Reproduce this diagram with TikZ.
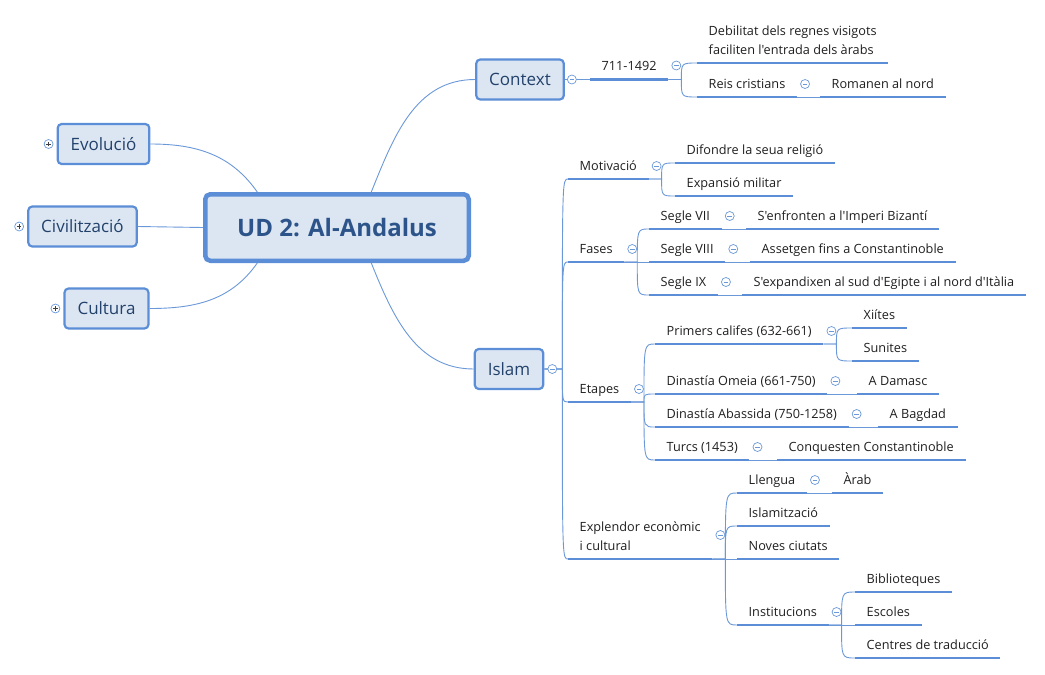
\documentclass[tikz,border=0pt]{standalone}
\usepackage{fontspec}
\newfontfamily\mmfonte{Open Sans}
\usetikzlibrary{positioning}
\definecolor{mmazul}{HTML}{5B8ED6}
\definecolor{mmazulclaro}{HTML}{DCE6F2}
\definecolor{mmfio}{HTML}{6A98D8}
\definecolor{mmtexto}{HTML}{22416B}
\definecolor{mmtitulo}{HTML}{2D548A}
\tikzset{
  mmcentro/.style={draw=mmazul, fill=mmazulclaro, line width=4.5pt, rounded corners=5pt,
                   minimum width=263.5pt, minimum height=66.5pt, text=mmtitulo,
                   font=\mmfonte\fontsize{24}{28}\selectfont\bfseries},
  mmprincipal/.style={draw=mmazul, fill=mmazulclaro, line width=2.2pt, rounded corners=4pt,
                   inner xsep=13pt, minimum height=40pt, text=mmtexto,
                   font=\mmfonte\fontsize{17}{20}\selectfont},
  mmtopico/.style={anchor=south west, inner xsep=11.5pt, inner ysep=5.5pt, text depth=3pt,
                   align=left, text=black!88, font=\mmfonte\fontsize{12.7}{18.5}\selectfont,
                   append after command={(\tikzlastnode.south west) edge[mmsublinha] (\tikzlastnode.south east)}},
  mmsublinha/.style={draw=mmazul, line width=2.6pt},
  mmconector/.style={draw=mmfio, line width=0.9pt},
  mmramo/.style={mmconector, to path={-- ++(13,0) coordinate (mmj) .. controls (mmj |- \tikztotarget) .. (\tikztotarget)}},
  mmtronco/.style={mmconector, to path={-- ++(18,0) coordinate (mmj) .. controls (mmj |- \tikztotarget) .. (\tikztotarget)}},
  mmmenos/.style={circle, draw=mmfio, fill=white, line width=0.7pt, minimum size=9pt, inner sep=0pt,
                  path picture={\draw[mmfio, line width=0.7pt]
                    ([xshift=-2.3pt]path picture bounding box.center) -- ([xshift=2.3pt]path picture bounding box.center);}},
  mmmais/.style={circle, draw=mmfio, fill=white, line width=0.7pt, minimum size=9pt, inner sep=0pt,
                  path picture={\draw[black!75, line width=0.7pt]
                    ([xshift=-2.3pt]path picture bounding box.center) -- ([xshift=2.3pt]path picture bounding box.center)
                    ([yshift=-2.3pt]path picture bounding box.center) -- ([yshift=2.3pt]path picture bounding box.center);}},
}

\begin{document}
\begin{tikzpicture}[x=1pt, y=1pt]
    \useasboundingbox (0,0) rectangle (1045,-675);
    % ---------------- tema central i branques principals ----------------
    \node[mmcentro] (ud) at (337,-227.5) {UD 2: Al-Andalus};
    \node[mmprincipal] (evolucio) at (103.5,-144) {Evolució};
    \node[mmprincipal] (civil) at (82.5,-226.5) {Civilització};
    \node[mmprincipal] (cultura) at (106.5,-308.5) {Cultura};
    \node[mmprincipal] (context) at (520,-79.5) {Context};
    \node[mmprincipal] (islam) at (509,-369) {Islam};
    % ---------------- Context ----------------
    \node[mmtopico] (anys) at (590,-79.5) {711-1492};
    \node[mmtopico] (debil) at (697,-63) {Debilitat dels regnes visigots\\faciliten l'entrada dels àrabs};
    \node[mmtopico] (reis) at (697,-97) {Reis cristians};
    \node[mmtopico] (romanen) at (820,-97) {Romanen al nord};
    % ---------------- Islam ----------------
    \node[mmtopico] (motiv) at (568,-179) {Motivació};
    \node[mmtopico] (difon) at (675,-163) {Difondre la seua religió};
    \node[mmtopico] (expan) at (675,-196) {Expansió militar};
    \node[mmtopico] (fases) at (568,-262) {Fases};
    \node[mmtopico] (s7) at (649,-229) {Segle VII};
    \node[mmtopico] (s7r) at (746,-229) {S'enfronten a l'Imperi Bizantí};
    \node[mmtopico] (s8) at (649,-262) {Segle VIII};
    \node[mmtopico] (s8r) at (750,-262) {Assetgen fins a Constantinoble};
    \node[mmtopico] (s9) at (649,-295) {Segle IX};
    \node[mmtopico] (s9r) at (742,-295) {S'expandixen al sud d'Egipte i al nord d'Itàlia};
    \node[mmtopico] (etapes) at (568,-402) {Etapes};
    \node[mmtopico] (califes) at (655,-344) {Primers califes (632-661)};
    \node[mmtopico] (xiites) at (852,-328) {Xiítes};
    \node[mmtopico] (sunites) at (852,-361) {Sunites};
    \node[mmtopico] (omeia) at (655,-394) {Dinastía Omeia (661-750)};
    \node[mmtopico] (damasc) at (857,-394) {A Damasc};
    \node[mmtopico] (abassida) at (655,-427) {Dinastía Abassida (750-1258)};
    \node[mmtopico] (bagdad) at (878,-427) {A Bagdad};
    \node[mmtopico] (turcs) at (655,-460) {Turcs (1453)};
    \node[mmtopico] (conquesten) at (777,-460) {Conquesten Constantinoble};
    \node[mmtopico] (esplendor) at (568,-559) {Explendor econòmic\\i cultural};
    \node[mmtopico] (llengua) at (737,-493) {Llengua};
    \node[mmtopico] (arab) at (832,-493) {Àrab};
    \node[mmtopico] (islamitz) at (737,-526) {Islamització};
    \node[mmtopico] (ciutats) at (737,-559) {Noves ciutats};
    \node[mmtopico] (instit) at (737,-625) {Institucions};
    \node[mmtopico] (bibl) at (855,-592) {Biblioteques};
    \node[mmtopico] (escoles) at (855,-625) {Escoles};
    \node[mmtopico] (centres) at (855,-658) {Centres de traducció};
    % ---------------- connectors ----------------
    \draw[mmconector] (ud.46) to[out=68, in=180] (context.west);
    \draw[mmconector] (ud.-46) to[out=-68, in=180] (islam.west);
    \draw[mmconector] (ud.156) to[out=125, in=0] (evolucio.east);
    \draw[mmconector] (ud.west) -- (civil.east);
    \draw[mmconector] (ud.-156) to[out=-125, in=0] (cultura.east);
    \draw[mmconector] (context.east) -- (anys.south west);
    \draw[mmramo] (anys.south east) to (debil.south west);
    \draw[mmramo] (anys.south east) to (reis.south west);
    \draw[mmconector] (reis.south east) -- (romanen.south west);
    \draw[mmtronco] (islam.east) to (motiv.south west);
    \draw[mmtronco] (islam.east) to (fases.south west);
    \draw[mmtronco] (islam.east) to (etapes.south west);
    \draw[mmtronco] (islam.east) to (esplendor.south west);
    \draw[mmramo] (motiv.south east) to (difon.south west);
    \draw[mmramo] (motiv.south east) to (expan.south west);
    \draw[mmramo] (fases.south east) to (s7.south west);
    \draw[mmconector] (fases.south east) -- (s8.south west);
    \draw[mmramo] (fases.south east) to (s9.south west);
    \draw[mmconector] (s7.south east) -- (s7r.south west);
    \draw[mmconector] (s8.south east) -- (s8r.south west);
    \draw[mmconector] (s9.south east) -- (s9r.south west);
    \draw[mmramo] (etapes.south east) to (califes.south west);
    \draw[mmramo] (etapes.south east) to (omeia.south west);
    \draw[mmramo] (etapes.south east) to (abassida.south west);
    \draw[mmramo] (etapes.south east) to (turcs.south west);
    \draw[mmramo] (califes.south east) to (xiites.south west);
    \draw[mmramo] (califes.south east) to (sunites.south west);
    \draw[mmconector] (omeia.south east) -- (damasc.south west);
    \draw[mmconector] (abassida.south east) -- (bagdad.south west);
    \draw[mmconector] (turcs.south east) -- (conquesten.south west);
    \draw[mmramo] (esplendor.south east) to (llengua.south west);
    \draw[mmramo] (esplendor.south east) to (islamitz.south west);
    \draw[mmconector] (esplendor.south east) -- (ciutats.south west);
    \draw[mmramo] (esplendor.south east) to (instit.south west);
    \draw[mmconector] (llengua.south east) -- (arab.south west);
    \draw[mmramo] (instit.south east) to (bibl.south west);
    \draw[mmconector] (instit.south east) -- (escoles.south west);
    \draw[mmramo] (instit.south east) to (centres.south west);
    % ---------------- plegar / desplegar ----------------
    \node[mmmais] (pevolucio) at ([xshift=-8pt]evolucio.west) {};
    \node[mmmais] (pcivil) at ([xshift=-8pt]civil.west) {};
    \node[mmmais] (pcultura) at ([xshift=-8pt]cultura.west) {};
    \node[mmmenos] (mcontext) at ([xshift=7pt]context.east) {};
    \node[mmmenos] (mislam) at ([xshift=8pt]islam.east) {};
    \node[mmmenos] (manys) at ([shift={(8,14)}]anys.south east) {};
    \node[mmmenos] (mreis) at ([shift={(8,13)}]reis.south east) {};
    \node[mmmenos] (mmotiv) at ([shift={(8,13)}]motiv.south east) {};
    \node[mmmenos] (mfases) at ([shift={(8,13)}]fases.south east) {};
    \node[mmmenos] (ms7) at ([shift={(8,13)}]s7.south east) {};
    \node[mmmenos] (ms8) at ([shift={(8,13)}]s8.south east) {};
    \node[mmmenos] (ms9) at ([shift={(8,13)}]s9.south east) {};
    \node[mmmenos] (metapes) at ([shift={(8,13)}]etapes.south east) {};
    \node[mmmenos] (mcalifes) at ([shift={(8,13)}]califes.south east) {};
    \node[mmmenos] (momeia) at ([shift={(8,13)}]omeia.south east) {};
    \node[mmmenos] (mabassida) at ([shift={(8,13)}]abassida.south east) {};
    \node[mmmenos] (mturcs) at ([shift={(8,13)}]turcs.south east) {};
    \node[mmmenos] (mesplendor) at ([shift={(8,24)}]esplendor.south east) {};
    \node[mmmenos] (mllengua) at ([shift={(8,13)}]llengua.south east) {};
    \node[mmmenos] (minstit) at ([shift={(8,13)}]instit.south east) {};
\end{tikzpicture}
\end{document}
